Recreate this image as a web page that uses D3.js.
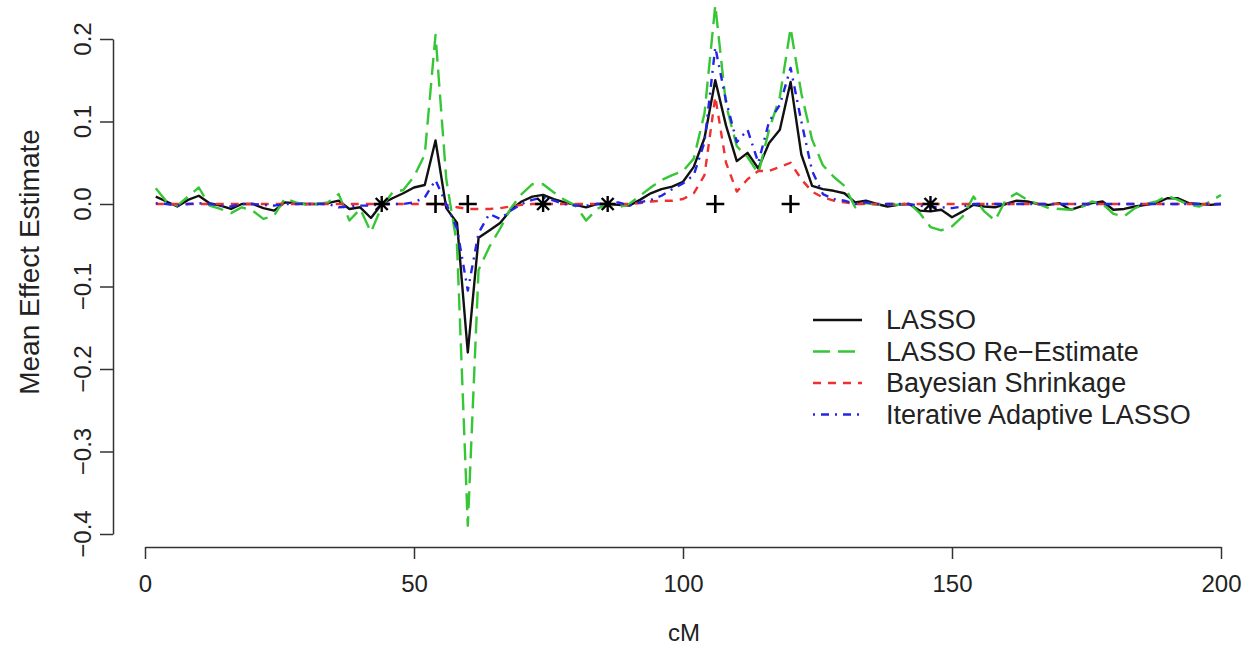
<!DOCTYPE html>
<html>
<head>
<meta charset="utf-8">
<script src="https://cdn.jsdelivr.net/npm/d3@7"></script>
<style>
  body { margin: 0; background: #fff; }
  svg text { font-family: "Liberation Sans", Arial, sans-serif; fill: #222; }
</style>
</head>
<body>
<svg id="chart" width="1256" height="650"></svg>
<script>
// marker positions along the chromosome (cM), one every 2 cM
var positions = d3.range(2, 201, 2);

// mean effect estimates, one value per position
var lasso = [
    0.009, 0.003, -0.003, 0.005, 0.010, 0.001, -0.002, -0.006, 0.000, 0.000,
    -0.005, -0.008, 0.002, 0.001, 0.000, 0.000, 0.001, 0.004, -0.006, -0.004,
    -0.017, 0.000, 0.007, 0.013, 0.020, 0.023, 0.077, -0.005, -0.023, -0.180,
    -0.041, -0.032, -0.023, -0.007, 0.003, 0.009, 0.011, 0.006, 0.002, -0.001,
    -0.004, 0.000, 0.000, -0.001, -0.002, 0.005, 0.013, 0.018, 0.021, 0.027,
    0.045, 0.080, 0.150, 0.095, 0.052, 0.062, 0.043, 0.074, 0.090, 0.148,
    0.060, 0.022, 0.018, 0.016, 0.013, 0.002, 0.004, 0.000, -0.003, -0.001,
    0.000, -0.008, -0.009, -0.007, -0.016, -0.009, -0.001, -0.003, -0.004, 0.000,
    0.004, 0.003, 0.000, -0.001, 0.001, -0.007, -0.003, 0.001, 0.003, -0.007,
    -0.006, -0.003, -0.001, 0.001, 0.007, 0.007, 0.001, 0.000, -0.001, 0.000
];
var lassoReEstimate = [
    0.019, 0.003, -0.002, 0.009, 0.020, -0.002, -0.006, -0.011, -0.004, -0.008,
    -0.018, -0.014, 0.007, 0.002, -0.001, 0.000, 0.002, 0.012, -0.020, -0.006,
    -0.034, -0.003, 0.014, 0.017, 0.033, 0.060, 0.205, 0.030, -0.050, -0.390,
    -0.080, -0.052, -0.030, -0.005, 0.012, 0.024, 0.024, 0.014, 0.005, -0.002,
    -0.020, -0.006, 0.000, -0.004, 0.000, 0.010, 0.020, 0.029, 0.035, 0.040,
    0.055, 0.110, 0.241, 0.120, 0.070, 0.057, 0.037, 0.090, 0.130, 0.213,
    0.134, 0.078, 0.047, 0.033, 0.022, -0.004, 0.001, -0.001, 0.000, -0.001,
    0.001, -0.011, -0.028, -0.032, -0.027, -0.015, 0.009, -0.009, -0.020, 0.005,
    0.013, 0.005, 0.000, -0.005, -0.006, -0.007, -0.004, 0.003, 0.000, -0.012,
    -0.015, -0.005, 0.000, 0.003, 0.010, 0.005, -0.001, -0.003, 0.003, 0.011
];
var bayesShrink = [
    0.000, 0.000, 0.000, 0.000, 0.000, 0.000, 0.000, 0.000, 0.000, 0.000,
    0.000, 0.000, 0.000, 0.000, 0.000, 0.000, 0.000, 0.000, 0.000, 0.000,
    0.000, 0.000, 0.000, 0.000, 0.000, 0.000, 0.000, -0.001, -0.004, -0.006,
    -0.006, -0.006, -0.005, -0.003, -0.001, 0.000, 0.000, 0.000, 0.000, 0.000,
    0.000, 0.000, 0.000, 0.000, 0.000, 0.001, 0.003, 0.004, 0.004, 0.006,
    0.013, 0.035, 0.130, 0.050, 0.015, 0.030, 0.040, 0.040, 0.045, 0.050,
    0.030, 0.015, 0.008, 0.004, 0.002, 0.000, 0.000, 0.000, 0.000, 0.000,
    0.000, 0.000, 0.000, 0.000, 0.000, 0.000, 0.000, 0.000, 0.000, 0.000,
    0.000, 0.000, 0.000, 0.000, 0.000, 0.000, 0.000, 0.000, 0.000, 0.000,
    0.000, 0.000, 0.000, 0.000, 0.000, 0.000, 0.000, 0.000, 0.000, 0.000
];
var iterAdaptive = [
    0.001, 0.000, -0.002, 0.000, 0.001, 0.000, -0.002, -0.003, 0.000, 0.000,
    -0.001, -0.002, 0.000, 0.000, 0.000, 0.000, 0.000, -0.004, -0.003, -0.002,
    -0.002, 0.000, 0.000, 0.000, 0.002, 0.008, 0.029, 0.000, -0.030, -0.105,
    -0.035, -0.012, -0.018, -0.008, 0.000, 0.005, 0.008, 0.004, 0.000, -0.002,
    -0.002, 0.000, 0.000, 0.002, -0.002, 0.002, 0.005, 0.010, 0.018, 0.025,
    0.035, 0.075, 0.190, 0.125, 0.075, 0.090, 0.050, 0.100, 0.120, 0.165,
    0.100, 0.040, 0.012, 0.006, 0.004, 0.000, 0.002, 0.000, 0.000, 0.000,
    0.000, -0.002, -0.004, -0.004, -0.005, -0.003, 0.000, 0.000, 0.000, 0.000,
    0.000, 0.000, 0.000, 0.000, 0.000, 0.000, 0.000, 0.000, 0.000, 0.000,
    0.000, 0.000, 0.000, 0.000, 0.000, 0.000, 0.000, 0.000, 0.000, 0.000
];

// true QTL locations shown on the zero line
var starQtl = [44, 74, 86, 146];
var plusQtl = [54, 60, 106, 120];

var xTicks = [0, 50, 100, 150, 200];
var yTicks = [0.2, 0.1, 0.0, -0.1, -0.2, -0.3, -0.4];

var seriesNames = ["LASSO", "LASSO Re\u2212Estimate", "Bayesian Shrinkage", "Iterative Adaptive LASSO"];
var seriesValues = [lasso, lassoReEstimate, bayesShrink, iterAdaptive];
var seriesColors = ["#111111", "#36c636", "#f03030", "#2424e6"];
var seriesDashes = [null, "17 8", "8 7", "2 6 8 6"];

var svg = d3.select("#chart");

var x = d3.scaleLinear().domain([0, 200]).range([145, 1221]);
var y = d3.scaleLinear().domain([-0.4, 0.2]).range([534, 39]);

function fmt(v) {
    var s = Math.abs(v).toFixed(1);
    return v < 0 ? "\u2212" + s : s;
}

// x axis, offset below the plot like base R graphics
var xAxis = svg.append("g")
    .attr("transform", "translate(0,547)")
    .call(d3.axisBottom(x).tickValues(xTicks).tickSize(12).tickSizeOuter(0).tickPadding(16).tickFormat(d3.format("d")));
xAxis.selectAll("path, line").attr("stroke", "#333").attr("stroke-width", 1.5);
xAxis.selectAll("text").attr("font-size", 24).attr("fill", "#222")
    .style("font-family", "'Liberation Sans', Arial, sans-serif");

// y axis with labels running along the axis
var yAxis = svg.append("g")
    .attr("transform", "translate(113,0)")
    .call(d3.axisLeft(y).tickValues(yTicks).tickSize(13).tickSizeOuter(0).tickFormat(""));
yAxis.selectAll("path, line").attr("stroke", "#333").attr("stroke-width", 1.5);

svg.append("g").selectAll("text")
    .data(yTicks)
    .join("text")
    .attr("transform", function(d) { return "translate(83," + y(d) + ") rotate(-90)"; })
    .attr("text-anchor", "middle")
    .attr("dy", "0.35em")
    .attr("font-size", 24)
    .text(fmt);

svg.append("text")
    .attr("transform", "translate(29,262) rotate(-90)")
    .attr("text-anchor", "middle")
    .attr("dy", "0.35em")
    .attr("font-size", 28)
    .text("Mean Effect Estimate");

svg.append("text")
    .attr("x", 684)
    .attr("y", 641)
    .attr("text-anchor", "middle")
    .attr("font-size", 24)
    .text("cM");

// series lines
var line = d3.line()
    .x(function(d, i) { return x(positions[i]); })
    .y(function(d) { return y(d); });

seriesValues.forEach(function(vals, i) {
    svg.append("path")
        .datum(vals)
        .attr("fill", "none")
        .attr("stroke", seriesColors[i])
        .attr("stroke-width", 2.4)
        .attr("stroke-dasharray", seriesDashes[i])
        .attr("stroke-linejoin", "round")
        .attr("d", line);
});

// QTL markers
svg.append("g").selectAll("path")
    .data(plusQtl)
    .join("path")
    .attr("transform", function(d) { return "translate(" + x(d) + "," + y(0) + ")"; })
    .attr("d", "M-9,0H9M0,-9V9")
    .attr("stroke", "#000")
    .attr("stroke-width", 2.6)
    .attr("fill", "none");

svg.append("g").selectAll("path")
    .data(starQtl)
    .join("path")
    .attr("transform", function(d) { return "translate(" + x(d) + "," + y(0) + ")"; })
    .attr("d", "M-8,0H8M0,-8V8M-6,-6L6,6M-6,6L6,-6")
    .attr("stroke", "#000")
    .attr("stroke-width", 2.4)
    .attr("fill", "none");

// legend
var legend = svg.append("g");
seriesNames.forEach(function(name, i) {
    var ly = 320 + i * 31.5;
    legend.append("line")
        .attr("x1", 813).attr("x2", 862)
        .attr("y1", ly).attr("y2", ly)
        .attr("stroke", seriesColors[i])
        .attr("stroke-width", 2.4)
        .attr("stroke-dasharray", seriesDashes[i]);
    legend.append("text")
        .attr("x", 886)
        .attr("y", ly)
        .attr("dy", "0.35em")
        .attr("font-size", 27)
        .text(name);
});
</script>
</body>
</html>
